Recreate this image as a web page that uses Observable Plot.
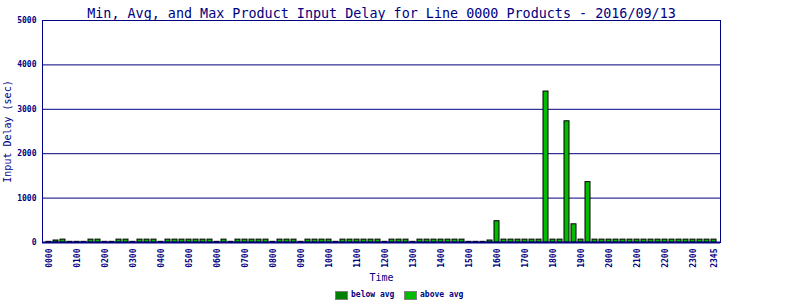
<!DOCTYPE html>
<html><head><meta charset="utf-8">
<script src="https://cdn.jsdelivr.net/npm/d3@7"></script>
<script src="https://cdn.jsdelivr.net/npm/@observablehq/plot@0.6"></script>
<style>
body{margin:0;background:#fff;}
#wrap{position:relative;width:800px;height:300px;overflow:hidden;}
.legtxt{position:absolute;font:bold 8px "DejaVu Sans Mono",monospace;color:#000080;line-height:10px;height:10px;white-space:nowrap;}
.sw{position:absolute;width:11px;height:7px;border:1px solid #808080;}
svg [aria-label="y-axis tick label"], svg [aria-label="x-axis tick label"]{font-weight:bold;}
</style></head><body><div id="wrap"></div>
<script>
const times = [
"0000","0015","0030","0045","0100","0115","0130","0145","0200","0215","0230","0245",
"0300","0315","0330","0345","0400","0415","0430","0445","0500","0515","0530","0545",
"0600","0615","0630","0645","0700","0715","0730","0745","0800","0815","0830","0845",
"0900","0915","0930","0945","1000","1015","1030","1045","1100","1115","1130","1145",
"1200","1215","1230","1245","1300","1315","1330","1345","1400","1415","1430","1445",
"1500","1515","1530","1545","1600","1615","1630","1645","1700","1715","1730","1745",
"1800","1815","1830","1845","1900","1915","1930","1945","2000","2015","2030","2045",
"2100","2115","2130","2145","2200","2215","2230","2245","2300","2315","2330","2345"];
const belowAvg = [
15,45,0,15, 15,15,0,0, 15,15,0,0, 15,0,0,0, 15,0,0,0, 0,0,0,0,
15,0,15,0, 0,0,0,0, 15,0,0,0, 15,0,0,0, 0,15,0,0, 0,0,0,0,
15,0,0,0, 15,0,0,0, 0,0,0,0, 15,15,15,0, 0,0,0,0, 0,0,0,0,
0,0,0,0, 0,0,0,0, 0,0,0,0, 0,0,0,0, 0,0,0,0, 0,0,0,0];
const aboveAvg = [
0,0,65,0, 0,0,65,65, 0,0,65,65, 0,65,65,65, 0,65,65,65, 65,65,65,65,
0,65,0,65, 65,65,65,65, 0,65,65,65, 0,65,65,65, 65,0,65,65, 65,65,65,65,
0,65,65,65, 0,65,65,65, 65,65,65,65, 0,0,0,45, 480,65,65,65, 65,65,65,3400,
65,65,2730,410, 65,1360,65,65, 65,65,65,65, 65,65,65,65, 65,65,65,65, 65,65,65,65];
const xTickLabels = ["0000","0100","0200","0300","0400","0500","0600","0700","0800","0900","1000","1100",
"1200","1300","1400","1500","1600","1700","1800","1900","2000","2100","2200","2300","2345"];
const yTicks = [0,1000,2000,3000,4000,5000];
const groups = ["below avg","above avg"];
const groupColors = ["#008000","#00bb00"];
const titleText = "Min, Avg, and Max Product Input Delay for Line 0000 Products - 2016/09/13";
const yLabel = "Input Delay (sec)";
const xLabel = "Time";

const rows = [];
times.forEach((t, i) => {
  if (belowAvg[i] > 0) rows.push({time: t, value: belowAvg[i], group: groups[0]});
  if (aboveAvg[i] > 0) rows.push({time: t, value: aboveAvg[i], group: groups[1]});
});
const navy = "#000080";
const chart = Plot.plot({
  width: 800, height: 300,
  marginLeft: 42, marginRight: 80, marginTop: 20, marginBottom: 58,
  style: {background: "#fff", color: navy, fontFamily: "DejaVu Sans Mono, monospace"},
  x: {domain: times, paddingInner: 0.286, paddingOuter: 0.571, label: null},
  y: {domain: [0, 5000], label: null},
  color: {domain: groups, range: groupColors},
  marks: [
    Plot.ruleY(yTicks.slice(1), {stroke: navy}),
    Plot.barY(rows, {x: "time", y: "value", fill: "group", stroke: "#000", strokeWidth: 1}),
    Plot.frame({stroke: navy}),
    Plot.ruleY([0], {stroke: navy, strokeWidth: 2}),
    Plot.axisY({ticks: yTicks, tickFormat: d => String(d), tickSize: 0, tickPadding: 6, fontSize: 8, fontWeight: "bold", label: null}),
    Plot.axisX({ticks: xTickLabels, tickSize: 0, tickPadding: 6, tickRotate: -90, fontSize: 8, fontWeight: "bold", label: null}),
    Plot.text([titleText], {frameAnchor: "top", dy: -12, fontSize: 13.4, text: d => d}),
    Plot.text([yLabel], {frameAnchor: "left", textAnchor: "middle", rotate: -90, dx: -35, fontSize: 10, text: d => d}),
    Plot.text([xLabel], {frameAnchor: "bottom", dy: 38, fontSize: 10, text: d => d})
  ]
});
const wrap = document.getElementById("wrap");
wrap.appendChild(chart);
const legendPos = [{sw: 335, tx: 351}, {sw: 404, tx: 420}];
groups.forEach((g, i) => {
  const s = document.createElement("div");
  s.className = "sw";
  s.style.left = legendPos[i].sw + "px";
  s.style.top = "291px";
  s.style.background = groupColors[i];
  wrap.appendChild(s);
  const t = document.createElement("div");
  t.className = "legtxt";
  t.style.left = legendPos[i].tx + "px";
  t.style.top = "290px";
  t.textContent = g;
  wrap.appendChild(t);
});
chart.style.position = "absolute";
chart.style.left = "0";
chart.style.top = "0";
</script>
</body></html>
